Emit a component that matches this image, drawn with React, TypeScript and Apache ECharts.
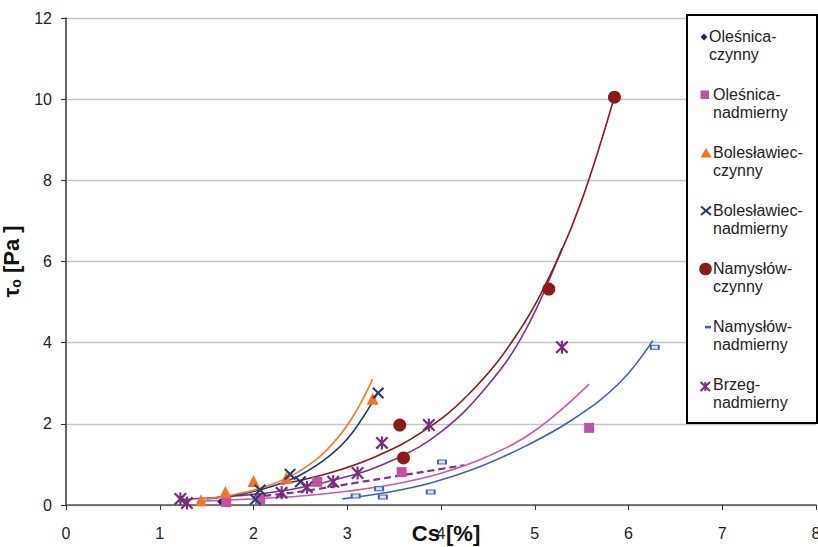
import React, { useEffect, useRef } from "react";
import * as echarts from "echarts";

// ---------- data ----------
const xTicks = [0, 1, 2, 3, 4, 5, 6, 7, 8];
const yTicks = [0, 2, 4, 6, 8, 10, 12];

const olesnicaCzynny: number[][] = [[1.65, 0.08], [2.05, 0.18], [2.3, 0.26]];
const olesnicaNadmierny: number[][] = [[1.71, 0.07], [2.07, 0.15], [2.68, 0.57], [3.58, 0.81], [5.58, 1.9]];
const boleslawiecCzynny: number[][] = [[1.44, 0.12], [1.7, 0.32], [2.0, 0.59], [2.35, 0.67], [3.27, 2.62]];
const boleslawiecNadmierny: number[][] = [[2.02, 0.14], [2.07, 0.37], [2.39, 0.76], [2.5, 0.57], [3.33, 2.76]];
const namyslowCzynny: number[][] = [[3.56, 1.97], [3.6, 1.16], [5.15, 5.32], [5.85, 10.05]];
const namyslowNadmierny: number[][] = [[3.09, 0.22], [3.34, 0.4], [3.38, 0.2], [3.89, 0.32], [4.01, 1.06], [6.28, 3.89]];
const brzegNadmierny: number[][] = [[1.22, 0.15], [1.29, 0.05], [2.3, 0.3], [2.57, 0.44], [2.85, 0.57], [3.11, 0.79], [3.37, 1.53], [3.87, 1.97], [5.29, 3.89]];

// trend lines
const trendBoleslawiecCzynny: number[][] = [[1.43, 0.14], [1.8, 0.26], [2.2, 0.51], [2.6, 1.0], [2.9, 1.66], [3.1, 2.33], [3.27, 3.1]];
const trendBoleslawiecNadmierny: number[][] = [[1.5, 0.15], [1.9, 0.28], [2.2, 0.46], [2.5, 0.74], [2.8, 1.19], [3.05, 1.77], [3.33, 2.78]];
const trendNamyslowCzynny: number[][] = [[2.3, 0.51], [2.8, 0.78], [3.3, 1.19], [3.8, 1.8], [4.3, 2.74], [4.8, 4.17], [5.2, 5.84], [5.5, 7.5], [5.85, 10.06]];
const trendBrzeg: number[][] = [[1.2, 0.13], [1.8, 0.22], [2.4, 0.38], [3.0, 0.7], [3.5, 1.12], [4.0, 1.8], [4.5, 2.95], [4.9, 4.3], [5.29, 6.33]];
const trendOlesnicaNadmierny: number[][] = [[1.4, 0.09], [2.0, 0.15], [2.5, 0.22], [3.0, 0.34], [3.5, 0.51], [4.0, 0.78], [4.5, 1.2], [5.0, 1.83], [5.58, 2.98]];
const trendNamyslowNadmierny: number[][] = [[2.95, 0.15], [3.4, 0.3], [3.9, 0.55], [4.4, 0.93], [4.9, 1.45], [5.4, 2.1], [5.9, 3.0], [6.26, 4.05]];
const trendOlesnicaCzynny: number[][] = [[2.0, 0.2], [2.4, 0.3], [2.7, 0.4], [3.1, 0.55], [3.5, 0.7], [3.9, 0.85], [4.25, 0.98]];

const xTitle = "Cs [%]";

const legendNames = [
  "Oleśnica-\nczynny",
  "Oleśnica-\nnadmierny",
  "Bolesławiec-\nczynny",
  "Bolesławiec-\nnadmierny",
  "Namysłów-\nczynny",
  "Namysłów-\nnadmierny",
  "Brzeg-\nnadmierny",
];

const C = {
  navy: "#23236B",
  magenta: "#C050A8",
  orange: "#F47421",
  darkBlue: "#1F3A6E",
  darkRed: "#8B1A1A",
  blue: "#3D62B5",
  purple: "#7A2B80",
};

const X_PATH = "path://M0,1.2L1.2,0L5,3.8L8.8,0L10,1.2L6.2,5L10,8.8L8.8,10L5,6.2L1.2,10L0,8.8L3.8,5Z";
const AST_PATH = "path://M0,1.2L1.2,0L5,3.8L8.8,0L10,1.2L6.2,5L10,8.8L8.8,10L5,6.2L1.2,10L0,8.8L3.8,5Z M4.2,0L5.8,0L5.8,10L4.2,10Z";

const FONT = "'Liberation Sans', Arial, sans-serif";

function trend(data: number[][], color: string, width = 1.6, type: any = "solid") {
  return {
    type: "line",
    data,
    smooth: 0.4,
    showSymbol: false,
    symbol: "none",
    silent: true,
    lineStyle: { color, width, type },
    z: 2,
  };
}

function scatter(name: string, data: number[][], symbol: string, size: any, color: string, extra: any = {}) {
  return {
    type: "scatter",
    name,
    data,
    symbol,
    symbolSize: size,
    itemStyle: { color, opacity: 1, ...extra },
    z: 3,
  };
}

function buildLegend() {
  const els: any[] = [];
  els.push({
    type: "rect",
    shape: { x: 687, y: 15, width: 130, height: 408 },
    style: { fill: "#fff", stroke: "#000", lineWidth: 2 },
    z: 10,
  });
  const cx = 705;
  legendNames.forEach((txt, i) => {
    const cy = 37 + i * 58;
    const tx = i === 0 ? 709 : 713;
    let icon: any[] = [];
    if (i === 0) {
      icon = [{ type: "polygon", shape: { points: [[cx - 1, cy - 3.5], [cx + 2.5, cy], [cx - 1, cy + 3.5], [cx - 4.5, cy]] }, style: { fill: C.navy } }];
    } else if (i === 1) {
      icon = [{ type: "rect", shape: { x: cx - 4.5, y: cy - 4.5, width: 8.5, height: 8.5 }, style: { fill: C.magenta } }];
    } else if (i === 2) {
      icon = [{ type: "polygon", shape: { points: [[cx - 4.5, cy + 4.5], [cx + 1, cy - 5], [cx + 6.5, cy + 4.5]] }, style: { fill: C.orange } }];
    } else if (i === 3) {
      icon = [
        { type: "line", shape: { x1: cx - 4, y1: cy - 4.5, x2: cx + 6, y2: cy + 4 }, style: { stroke: C.darkBlue, lineWidth: 2 } },
        { type: "line", shape: { x1: cx + 6, y1: cy - 4.5, x2: cx - 4, y2: cy + 4 }, style: { stroke: C.darkBlue, lineWidth: 2 } },
      ];
    } else if (i === 4) {
      icon = [{ type: "circle", shape: { cx: cx + 0.5, cy, r: 6.3 }, style: { fill: C.darkRed } }];
    } else if (i === 5) {
      icon = [{ type: "rect", shape: { x: cx, y: cy - 1.2, width: 6, height: 2.6 }, style: { fill: C.blue } }];
    } else {
      icon = [
        { type: "line", shape: { x1: cx - 4.5, y1: cy - 3, x2: cx + 5, y2: cy + 6 }, style: { stroke: C.purple, lineWidth: 2 } },
        { type: "line", shape: { x1: cx + 5, y1: cy - 3, x2: cx - 4.5, y2: cy + 6 }, style: { stroke: C.purple, lineWidth: 2 } },
        { type: "line", shape: { x1: cx + 0.3, y1: cy - 3, x2: cx + 0.3, y2: cy + 6 }, style: { stroke: C.purple, lineWidth: 2 } },
      ];
    }
    icon.forEach((e) => els.push({ ...e, z: 11 }));
    els.push({
      type: "text",
      x: tx,
      y: cy - 9,
      z: 11,
      style: {
        text: txt,
        fill: "#222",
        fontFamily: FONT,
        fontSize: 16,
        lineHeight: 17.5,
        verticalAlign: "top",
        align: "left",
      },
    });
  });
  // x-axis title (drawn over the "4" tick label as in the reference)
  els.push({
    type: "text",
    x: 446,
    y: 533,
    z: 5,
    style: {
      text: xTitle,
      fill: "#111",
      fontFamily: FONT,
      fontSize: 22,
      fontWeight: "bold",
      align: "center",
      verticalAlign: "middle",
    },
  });
  return els;
}

export default function App() {
  const ref = useRef<HTMLDivElement>(null);
  useEffect(() => {
    if (!ref.current) return;
    const chart = echarts.init(ref.current, null, { renderer: "svg" });
    const option: any = {
      animation: false,
      backgroundColor: "#fff",
      textStyle: { fontFamily: FONT },
      grid: { left: 66, right: 2, top: 18, bottom: 42, containLabel: false, outerBoundsMode: "none" },
      xAxis: {
        type: "value",
        min: xTicks[0],
        max: xTicks[xTicks.length - 1],
        interval: 1,
        axisLine: { show: true, onZero: false, lineStyle: { color: "#555", width: 1.5 } },
        axisTick: { show: true, length: 5, inside: false, lineStyle: { color: "#333" } },
        axisLabel: { fontFamily: FONT, fontSize: 16, color: "#222", margin: 20 },
        splitLine: { show: false },
      },
      yAxis: {
        type: "value",
        min: yTicks[0],
        max: yTicks[yTicks.length - 1],
        interval: 2,
        name: "{t|τ}{s|o}{t| [Pa ]}",
        nameLocation: "middle",
        nameGap: 40,
        nameRotate: 90,
        nameTextStyle: {
          rich: {
            t: { fontFamily: FONT, fontSize: 22, fontWeight: "bold", color: "#111" },
            s: { fontFamily: FONT, fontSize: 14, fontWeight: "bold", color: "#111", padding: [10, 0, 0, 0] },
          },
        },
        axisLine: { show: true, onZero: false, lineStyle: { color: "#333", width: 1.5 } },
        axisTick: { show: true, length: 5, inside: false, lineStyle: { color: "#333" } },
        axisLabel: { fontFamily: FONT, fontSize: 16, color: "#222", margin: 14 },
        splitLine: { show: true, lineStyle: { color: "#c4c4c4", width: 1.3 } },
      },
      series: [
        trend(trendOlesnicaCzynny, "#7E3386", 2.2, [7, 4]),
        trend(trendNamyslowNadmierny, C.blue),
        trend(trendOlesnicaNadmierny, "#C45AB8"),
        trend(trendBrzeg, "#80338A"),
        trend(trendNamyslowCzynny, C.darkRed),
        trend(trendBoleslawiecNadmierny, C.darkBlue),
        trend(trendBoleslawiecCzynny, "#F57A2A"),
        scatter(legendNames[0], olesnicaCzynny, "diamond", 7, C.navy),
        scatter(legendNames[1], olesnicaNadmierny, "rect", 10, C.magenta),
        scatter(legendNames[2], boleslawiecCzynny, "triangle", 12, C.orange),
        scatter(legendNames[3], boleslawiecNadmierny, X_PATH, 12, C.darkBlue),
        scatter(legendNames[4], namyslowCzynny, "circle", 13, C.darkRed),
        scatter(legendNames[5], namyslowNadmierny, "rect", [8, 4], "#dde5f6", { borderColor: C.blue, borderWidth: 1.4 }),
        scatter(legendNames[6], brzegNadmierny, AST_PATH, 13, C.purple),
      ],
      graphic: buildLegend(),
    };
    chart.setOption(option);
    return () => chart.dispose();
  }, []);
  return (
    <div style={{ position: "fixed", left: 0, top: 0, width: 818, height: 547, background: "#fff" }}>
      <div ref={ref} style={{ width: 818, height: 547 }} />
    </div>
  );
}
